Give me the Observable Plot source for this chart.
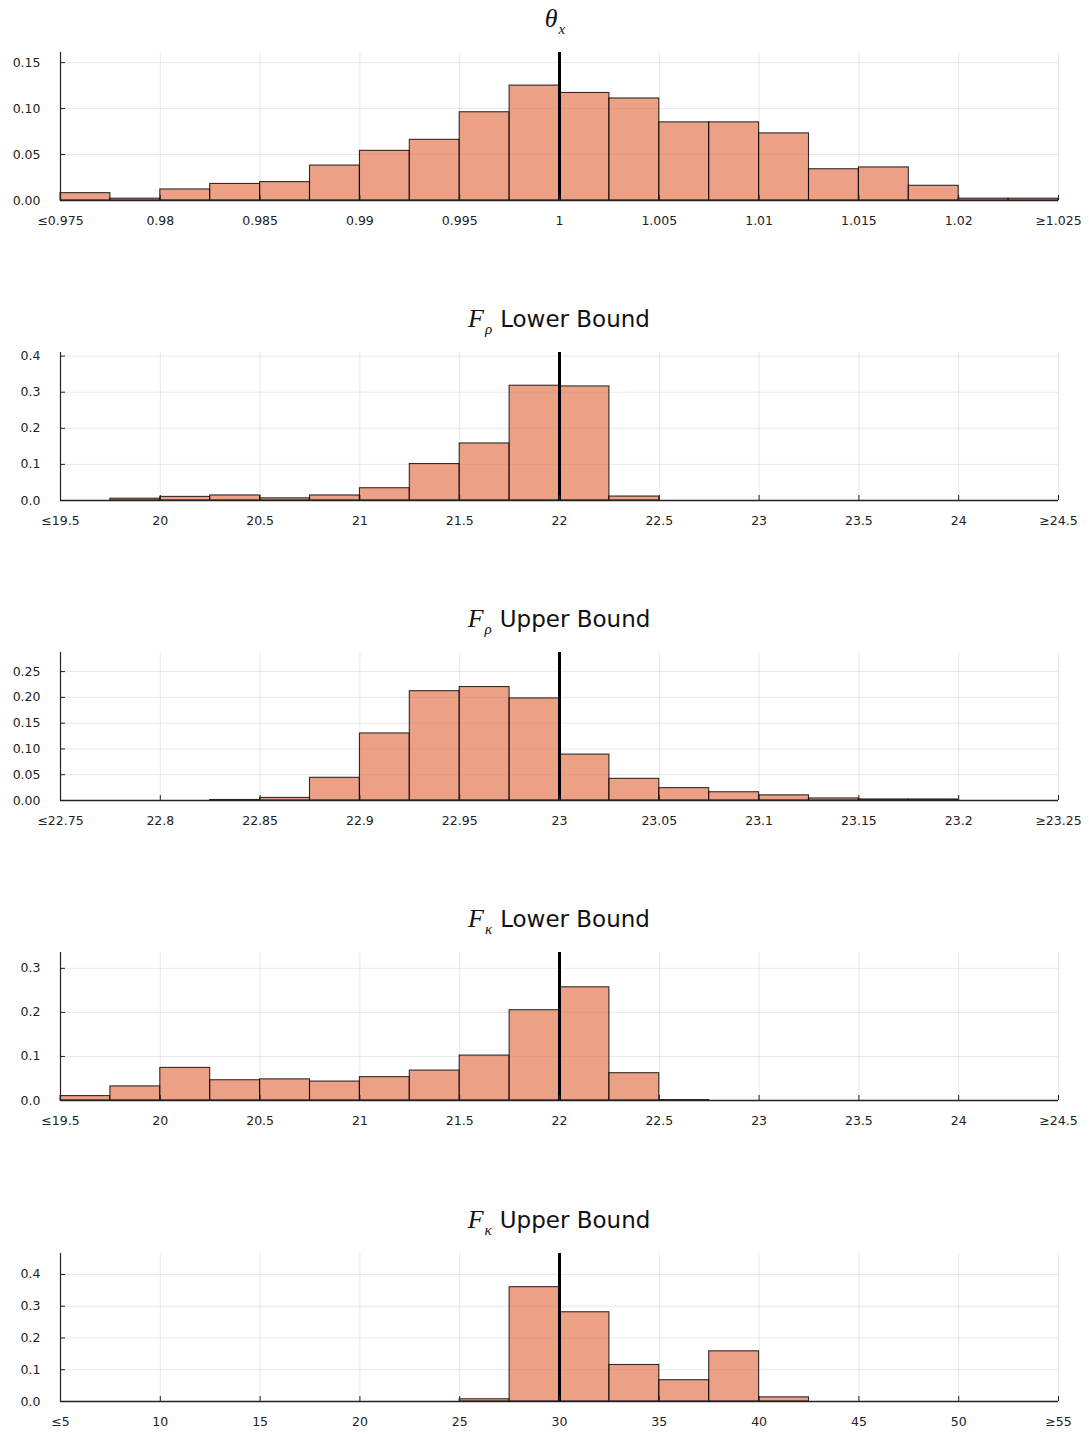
<!DOCTYPE html>
<html><head><meta charset="utf-8">
<script src="https://cdn.jsdelivr.net/npm/d3@7"></script>
<script src="https://cdn.jsdelivr.net/npm/@observablehq/plot@0.6"></script>
<style>
body{margin:0;background:#fff;width:1089px;height:1434px;position:relative;font-family:"DejaVu Sans",sans-serif;overflow:hidden}
.panel{position:absolute;left:0;width:1089px;}
.title{height:40px;line-height:38px;margin-left:60px;width:998px;text-align:center;font-size:23px;color:#111;white-space:nowrap}
.m{font-family:"Liberation Serif",serif;font-style:italic;font-size:26px}
.sub{font-family:"Liberation Serif",serif;font-style:italic;font-size:15px;position:relative;top:7px;margin-left:1px;margin-right:8px}
svg{display:block}
</style>
</head><body>
<script>
// ---- data ----
const panelTitles = [
  {sym: "θ", sub: "x", text: ""},
  {sym: "F", sub: "ρ", text: "Lower Bound"},
  {sym: "F", sub: "ρ", text: "Upper Bound"},
  {sym: "F", sub: "κ", text: "Lower Bound"},
  {sym: "F", sub: "κ", text: "Upper Bound"}
];
const thetaX      = [0.008,0.002,0.012,0.018,0.020,0.038,0.054,0.066,0.096,0.125,0.117,0.111,0.085,0.085,0.073,0.034,0.036,0.016,0.002,0.002];
const fRhoLower   = [0.000,0.005,0.010,0.014,0.006,0.014,0.034,0.101,0.158,0.318,0.316,0.011,0.000,0.000,0.000,0.000,0.000,0.000,0.000,0.000];
const fRhoUpper   = [0.000,0.000,0.000,0.001,0.005,0.044,0.130,0.212,0.220,0.198,0.089,0.042,0.024,0.016,0.010,0.004,0.002,0.002,0.000,0.000];
const fKappaLower = [0.010,0.032,0.074,0.046,0.048,0.043,0.053,0.068,0.102,0.205,0.257,0.062,0.001,0.000,0.000,0.000,0.000,0.000,0.000,0.000];
const fKappaUpper = [0.000,0.000,0.000,0.000,0.000,0.000,0.000,0.000,0.007,0.360,0.281,0.115,0.067,0.158,0.013,0.000,0.000,0.000,0.000,0.000];
const series = [thetaX, fRhoLower, fRhoUpper, fKappaLower, fKappaUpper];
const binRanges = [[0.975,1.025],[19.5,24.5],[22.75,23.25],[19.5,24.5],[5,55]];
const trueValues = [1, 22, 23, 22, 30];
const yMax = [0.161, 0.41, 0.287, 0.336, 0.466];
const yTicks = [[0,0.05,0.10,0.15],[0,0.1,0.2,0.3,0.4],[0,0.05,0.10,0.15,0.20,0.25],[0,0.1,0.2,0.3],[0,0.1,0.2,0.3,0.4]];
const yFormats = [".2f", ".1f", ".2f", ".1f", ".1f"];
const xTicks = [
  [0.975,0.98,0.985,0.99,0.995,1,1.005,1.01,1.015,1.02,1.025],
  [19.5,20,20.5,21,21.5,22,22.5,23,23.5,24,24.5],
  [22.75,22.8,22.85,22.9,22.95,23,23.05,23.1,23.15,23.2,23.25],
  [19.5,20,20.5,21,21.5,22,22.5,23,23.5,24,24.5],
  [5,10,15,20,25,30,35,40,45,50,55]
];
const xTickLabels = [
  ["≤0.975","0.98","0.985","0.99","0.995","1","1.005","1.01","1.015","1.02","≥1.025"],
  ["≤19.5","20","20.5","21","21.5","22","22.5","23","23.5","24","≥24.5"],
  ["≤22.75","22.8","22.85","22.9","22.95","23","23.05","23.1","23.15","23.2","≥23.25"],
  ["≤19.5","20","20.5","21","21.5","22","22.5","23","23.5","24","≥24.5"],
  ["≤5","10","15","20","25","30","35","40","45","50","≥55"]
];
const panelTops = [0, 300, 600, 900, 1201];

// ---- draw ----
series.forEach((vals, p) => {
  const [lo, hi] = binRanges[p];
  const w = (hi - lo) / vals.length;
  const bins = vals.map((v, i) => ({x1: lo + i * w, x2: lo + (i + 1) * w, y: v}));
  const labelMap = new Map(xTicks[p].map((t, i) => [t, xTickLabels[p][i]]));

  const div = document.createElement("div");
  div.className = "panel";
  div.style.top = panelTops[p] + "px";
  const t = panelTitles[p];
  const title = document.createElement("div");
  title.className = "title";
  title.innerHTML = `<span class="m">${t.sym}</span><span class="sub">${t.sub}</span>${t.text}`;
  div.appendChild(title);

  const chart = Plot.plot({
    width: 1089,
    height: 200,
    marginTop: 12,
    marginBottom: 40,
    marginLeft: 60,
    marginRight: 31,
    style: {fontSize: "12.5px", fontFamily: "DejaVu Sans, sans-serif", color: "#222", background: "#fff"},
    x: {domain: [lo, hi], label: null},
    y: {domain: [0, yMax[p]], label: null},
    marks: [
      Plot.gridX(xTicks[p], {stroke: "#000", strokeOpacity: 0.09}),
      Plot.gridY(yTicks[p], {stroke: "#000", strokeOpacity: 0.09}),
      Plot.rectY(bins, {x1: "x1", x2: "x2", y: "y", fill: "#e26f46", fillOpacity: 0.65, stroke: "#000", strokeOpacity: 0.8, strokeWidth: 1.1}),
      Plot.ruleX([lo], {stroke: "#222", strokeWidth: 1.2}),
      Plot.ruleY([0], {stroke: "#222", strokeWidth: 1.4}),
      Plot.ruleX([trueValues[p]], {stroke: "#000", strokeWidth: 3}),
      Plot.axisX({ticks: xTicks[p], tickFormat: d => labelMap.get(d), tickSize: -5, tickPadding: 21, stroke: "#222", label: null}),
      Plot.axisY({ticks: yTicks[p], tickFormat: d3.format(yFormats[p]), tickSize: -5, tickPadding: 25, stroke: "#222", label: null})
    ]
  });
  div.appendChild(chart);
  document.body.appendChild(div);
});
</script>
</body></html>
